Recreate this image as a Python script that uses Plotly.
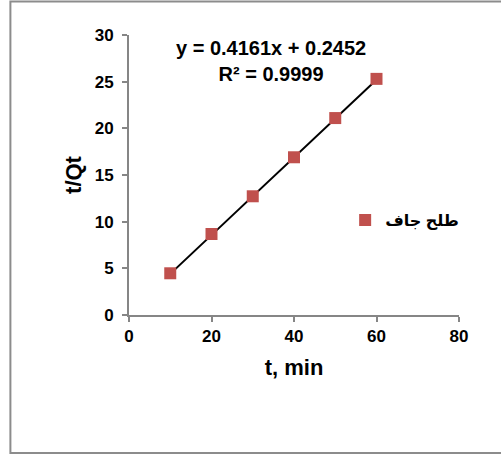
import plotly.graph_objects as go

# Pseudo-second-order kinetics data
t_min = [10, 20, 30, 40, 50, 60]
t_over_qt = [4.47, 8.68, 12.72, 16.9, 21.1, 25.3]
series_name = "طلح جاف"

# Linear fit reported on the chart
slope = 0.4161
intercept = 0.2452
r_squared = 0.9999

x_ticks = [0, 20, 40, 60, 80]
y_ticks = [0, 5, 10, 15, 20, 25, 30]

fit_y = [slope * x + intercept for x in t_min]

axis_grey = "#868686"
font_family = "Arial, Liberation Sans, DejaVu Sans, sans-serif"

fig = go.Figure()
fig.add_trace(go.Scatter(
    x=t_min, y=fit_y, mode="lines",
    line=dict(color="black", width=2),
    showlegend=False, hoverinfo="skip",
))
fig.add_trace(go.Scatter(
    x=t_min, y=t_over_qt, mode="markers", name=series_name,
    marker=dict(symbol="square", size=12, color="#C0504D",
                line=dict(width=0)),
))

fig.add_annotation(
    x=0.43, y=1.0, xref="paper", yref="paper",
    xanchor="center", yanchor="top", showarrow=False,
    text=f"<b>y = {slope}x + {intercept}</b><br><b>R² = {r_squared}</b>",
    font=dict(family=font_family, size=20, color="black"),
    align="center",
)

# Outer chart-area frame
fig.add_shape(
    type="rect", xref="paper", yref="paper",
    x0=-0.3594, x1=1.14, y0=-0.4929, y1=1.1196,
    line=dict(color="#8c8c8c", width=2), fillcolor="rgba(0,0,0,0)",
    layer="below",
)

fig.update_layout(
    width=501, height=455,
    margin=dict(l=129, r=42, t=35, b=140),
    paper_bgcolor="white", plot_bgcolor="white",
    font=dict(family=font_family, color="black"),
    legend=dict(
        x=0.655, y=0.339, xanchor="left", yanchor="middle",
        font=dict(family=font_family, size=16, color="black", weight="bold"),
        bgcolor="rgba(0,0,0,0)", itemwidth=30,
    ),
    xaxis=dict(
        range=[0, 80], tickvals=x_ticks, ticktext=[f"<b>{v}</b>" for v in x_ticks],
        showgrid=False, zeroline=False, showline=True,
        linecolor=axis_grey, linewidth=2,
        ticks="outside", ticklen=5, tickwidth=2, tickcolor=axis_grey,
        tickfont=dict(size=17, family=font_family),
        title=dict(text="<b>t, min</b>", font=dict(size=22, family=font_family), standoff=14),
    ),
    yaxis=dict(
        range=[0, 30], tickvals=y_ticks, ticktext=[f"<b>{v}</b>" for v in y_ticks],
        showgrid=False, zeroline=False, showline=True,
        linecolor=axis_grey, linewidth=2,
        ticks="outside", ticklen=5, tickwidth=2, tickcolor=axis_grey,
        tickfont=dict(size=17, family=font_family), ticklabelstandoff=5,
        title=dict(text="<b>t/Qt</b>", font=dict(size=22, family=font_family), standoff=7),
    ),
)

fig.write_html("out.html")
